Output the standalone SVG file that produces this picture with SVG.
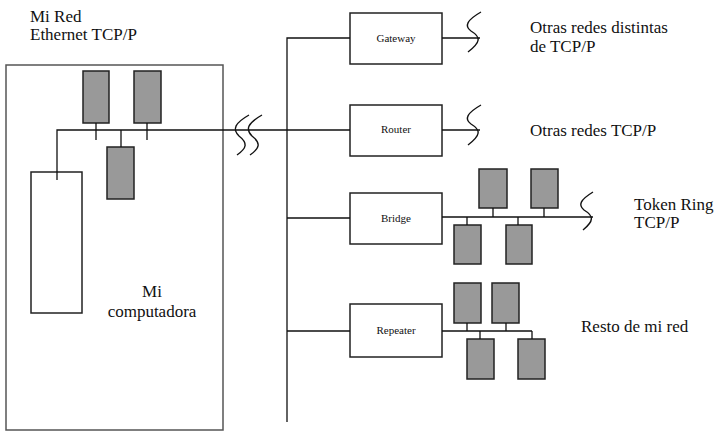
<svg xmlns="http://www.w3.org/2000/svg" width="715" height="432" viewBox="0 0 715 432">
<style>
.big{font-size:17px}
.lbl{font-size:11px;text-anchor:middle}
.ln{stroke:#111;stroke-width:1.3;fill:none}
.sq{stroke:#111;stroke-width:1.4;fill:none}
.box{fill:#fff;stroke:#222;stroke-width:1.5}
.pc{fill:#999;stroke:#222;stroke-width:1.5}
</style>
<rect width="715" height="432" fill="#fff"/>
<g font-family="Liberation Serif, serif" fill="#111">
<g id="labels">
<text class="big" x="30" y="22">Mi Red</text>
<text class="big" x="30" y="40">Ethernet TCP/P</text>
<text class="big" x="530" y="33">Otras redes distintas</text>
<text class="big" x="530" y="52">de TCP/P</text>
<text class="big" x="530" y="136">Otras redes TCP/P</text>
<text class="big" x="634" y="210">Token Ring</text>
<text class="big" x="634" y="228">TCP/P</text>
<text class="big" x="581" y="332">Resto de mi red</text>
</g>
<g id="computer">
<rect x="6" y="65" width="217" height="365" fill="#fff" stroke="#555" stroke-width="1.5"/>
<rect x="31" y="172" width="51" height="141" class="box"/>
<rect x="83" y="71" width="26" height="52" class="pc"/>
<rect x="134" y="71" width="27" height="52" class="pc"/>
<rect x="107" y="147" width="27" height="52" class="pc"/>
<text class="big" x="152" y="297" text-anchor="middle">Mi</text>
<text class="big" x="152" y="317" text-anchor="middle">computadora</text>
</g>
<g id="gateway">
<rect x="350" y="13" width="92" height="51" class="box"/>
<text class="lbl" x="396" y="42">Gateway</text>
</g>
<g id="router">
<rect x="350" y="105" width="92" height="51" class="box"/>
<text class="lbl" x="396" y="133">Router</text>
</g>
<g id="bridge">
<rect x="350" y="193" width="92" height="51" class="box"/>
<text class="lbl" x="396" y="222">Bridge</text>
</g>
<g id="repeater">
<rect x="350" y="304" width="92" height="53" class="box"/>
<text class="lbl" x="396" y="334">Repeater</text>
</g>
</g>
<g id="tokenring-hosts">
<rect x="479" y="169" width="28" height="39" class="pc"/>
<rect x="531" y="169" width="27" height="39" class="pc"/>
<rect x="454" y="225" width="27" height="39" class="pc"/>
<rect x="506" y="225" width="26" height="39" class="pc"/>
</g>
<g id="local-hosts">
<rect x="454" y="283" width="27" height="40" class="pc"/>
<rect x="492" y="283" width="27" height="40" class="pc"/>
<rect x="467" y="339" width="27" height="40" class="pc"/>
<rect x="518" y="339" width="27" height="40" class="pc"/>
</g>
<g id="connectors">
<path class="ln" d="M57,180 V130 H350"/>
<path class="ln" d="M96,123 V140 M147,123 V140 M121,130 V147"/>
<path class="ln" d="M287,422 V38 H350"/>
<path class="ln" d="M287,218 H350 M287,331 H350"/>
<path class="ln" d="M442,38 H480 M442,130 H480"/>
<path class="ln" d="M442,217 H593 M493,208 V217 M544,208 V217 M467,217 V225 M518,217 V225"/>
<path class="ln" d="M442,331 H532 M467,323 V331 M506,323 V331 M480,331 V339 M532,331 V339"/>
<path class="sq" d="M249,115 C235,123 232,129 239,136 C248,143 247,148 237,155"/>
<path class="sq" d="M262,115 C248,123 245,129 252,136 C261,143 260,148 250,155"/>
<path class="sq" d="M481,12 C467,20 464,26 471,31 C481,37 481,42 468,52"/>
<path class="sq" d="M481,105 C467,113 464,119 471,124 C481,130 481,135 468,145"/>
<path class="sq" d="M593,192 C580,200 578,205 584,210 C594,216 594,221 583,230"/>
</g>
</svg>
